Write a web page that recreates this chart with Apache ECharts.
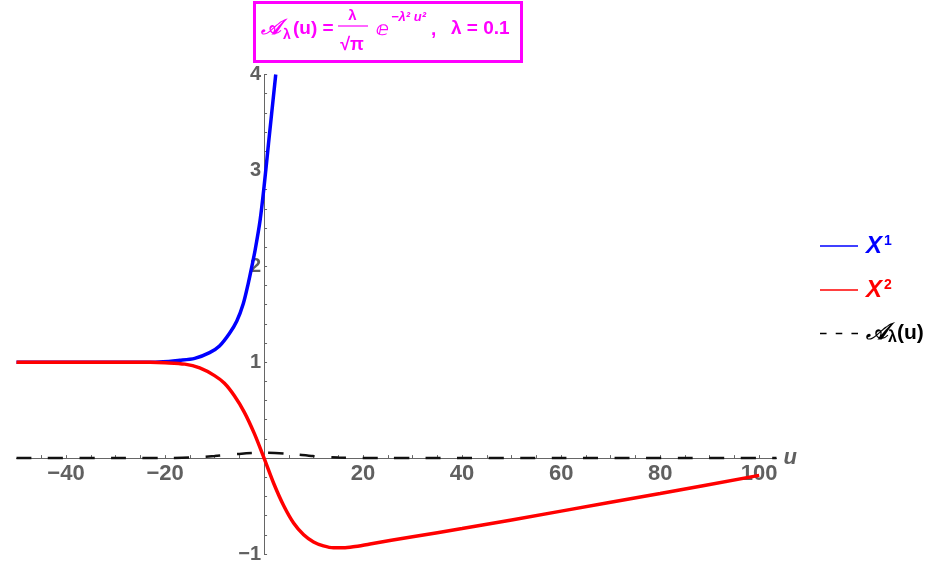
<!DOCTYPE html>
<html>
<head>
<meta charset="utf-8">
<script src="https://cdn.jsdelivr.net/npm/echarts@6/dist/echarts.min.js"></script>
<style>
    html, body { margin: 0; padding: 0; background: #fff; }
    #chart { width: 939px; height: 570px; }
</style>
</head>
<body>
<div id="chart"></div>
<script>
    // values
    const uBlue = [-50, -40, -30, -22, -17, -14, -11, -9, -7, -5.5, -4.2, -3.2, -2.5, -1.8, -0.8, 0, 0.9, 2.36];
    const yBlue = [1, 1, 1, 1.0, 1.02, 1.04, 1.10, 1.17, 1.30, 1.43, 1.61, 1.82, 1.99, 2.17, 2.48, 2.83, 3.28, 4.0];

    const uRed = [-50, -40, -30, -23, -20, -16, -13, -10, -8, -6, -4, -2, 0, 2, 4, 6, 8, 10, 12, 14, 16, 18, 21.4, 30, 40, 60, 80, 100];
    const yRed = [1, 1, 1, 1, 0.995, 0.98, 0.94, 0.86, 0.78, 0.65, 0.48, 0.26, 0, -0.27, -0.5, -0.68, -0.8, -0.875, -0.915, -0.935, -0.935, -0.925, -0.895, -0.82, -0.735, -0.553, -0.369, -0.18];

    const uGauss = [-50, -30, -25, -20, -15, -10, -5, 0, 5, 10, 15, 20, 25, 30, 60, 103.5];
    const yGauss = [0, 0, 0, 0.001, 0.006, 0.021, 0.044, 0.056, 0.044, 0.021, 0.006, 0.001, 0, 0, 0, 0];

    const xTickLabels = [-40, -20, 20, 40, 60, 80, 100];
    const yTickLabels = [-1, 1, 2, 3, 4];

    const pair = (us, ys) => us.map((u, i) => [u, ys[i]]);
    const minus = v => String(v).replace('-', '\u2212');
    const gray = '#606060';
    const font = '"Liberation Sans", Arial, sans-serif';
    const magenta = '#ff00ff';

    // grid box: u in [-50, 103.5], y in [-1, 4]
    const gridLeft = 16.5, gridRight = 162.5, gridTop = 74.5, gridBottom = 16;
    const plotW = 939 - gridLeft - gridRight, plotH = 570 - gridTop - gridBottom;
    // axes cross at (0, 0): move them there with offsets
    const xAxisOffset = -plotH * (0 - -1) / (4 - -1);
    const yAxisOffset = -plotW * (0 - -50) / (103.5 - -50);

    const chart = echarts.init(document.getElementById('chart'));

    const option = {
        animation: false,
        grid: { left: gridLeft, right: gridRight, top: gridTop, bottom: gridBottom, containLabel: false, outerBoundsMode: 'none' },
        xAxis: {
            type: 'value',
            min: -50,
            max: 103.5,
            interval: 5,
            position: 'bottom',
            offset: xAxisOffset,
            name: 'u',
            nameGap: 7,
            nameTextStyle: { color: gray, fontSize: 22, fontStyle: 'italic', fontWeight: 'bold', fontFamily: font, padding: [0, 0, 6, 0] },
            axisLine: { onZero: false, lineStyle: { color: '#666', width: 1 } },
            axisTick: { inside: true, length: 3, lineStyle: { color: '#666' } },
            splitLine: { show: false },
            axisLabel: {
                color: gray, fontSize: 22, fontWeight: 'bold', fontFamily: font, margin: 5,
                showMinLabel: false, showMaxLabel: false,
                formatter: v => xTickLabels.includes(Math.round(v)) && Math.abs(v - Math.round(v)) < 1e-6 ? minus(Math.round(v)) : ''
            }
        },
        yAxis: {
            type: 'value',
            min: -1,
            max: 4,
            interval: 0.2,
            position: 'left',
            offset: yAxisOffset,
            axisLine: { onZero: false, lineStyle: { color: '#666', width: 1 } },
            axisTick: { inside: true, length: 3, lineStyle: { color: '#666' } },
            splitLine: { show: false },
            axisLabel: {
                color: gray, fontSize: 20, fontWeight: 'bold', fontFamily: font, margin: 3,
                formatter: v => {
                    const r = Math.round(v);
                    return Math.abs(v - r) < 1e-6 && yTickLabels.includes(r) ? minus(r) : '';
                }
            }
        },
        legend: {
            orient: 'vertical',
            left: 815,
            top: 229,
            itemWidth: 38,
            itemHeight: 1.6,
            itemGap: 20,
            symbolKeepAspect: false,
            formatter: name => ({
                X1: '{x|X}{s|1}',
                X2: '{x|X}{s|2}',
                A: '{a|\uD835\uDC9C}{l|\u03BB}{n|(u)}'
            })[name],
            textStyle: {
                fontFamily: font,
                fontWeight: 'bold',
                fontSize: 21,
                padding: [0, 0, 0, 3],
                rich: {
                    x: { fontSize: 24, fontStyle: 'italic', fontWeight: 'bold', fontFamily: font },
                    s: { fontSize: 14, fontWeight: 'bold', fontFamily: font, verticalAlign: 'top', padding: [0, 0, 10, 2] },
                    a: { fontSize: 23, fontWeight: 'bold', fontStyle: 'italic', fontFamily: '"DejaVu Sans", sans-serif' },
                    l: { fontSize: 16, fontWeight: 'bold', fontFamily: font, verticalAlign: 'bottom', padding: [8, 0, 0, 0] },
                    n: { fontSize: 21, fontWeight: 'bold', fontFamily: font }
                }
            },
            data: [
                { name: 'X1', icon: 'rect', itemStyle: { color: '#0000ff' }, textStyle: { color: '#0000ff' } },
                { name: 'X2', icon: 'rect', itemStyle: { color: '#ff0000' }, textStyle: { color: '#ff0000' } },
                {
                    name: 'A',
                    icon: 'path://M0 0h5v1h-5zM12 0h5v1h-5zM24 0h5v1h-5z',
                    itemStyle: { color: '#000' },
                    textStyle: { color: '#000' }
                }
            ]
        },
        graphic: [
            { type: 'rect', shape: { x: 254.5, y: 2.5, width: 267, height: 59 }, style: { fill: '#fff', stroke: magenta, lineWidth: 3 }, z: 10 },
            { type: 'text', x: 261, y: 29, z: 11, style: { text: '\uD835\uDC9C', fill: magenta, font: 'italic bold 21px "DejaVu Sans", sans-serif', align: 'left', verticalAlign: 'middle' } },
            { type: 'text', x: 283, y: 35, z: 11, style: { text: '\u03BB', fill: magenta, font: 'bold 14px ' + font, align: 'left', verticalAlign: 'middle' } },
            { type: 'text', x: 293, y: 29, z: 11, style: { text: '(u) =', fill: magenta, font: 'bold 19px ' + font, align: 'left', verticalAlign: 'middle' } },
            { type: 'text', x: 352.5, y: 16, z: 11, style: { text: '\u03BB', fill: magenta, font: 'bold 15px ' + font, align: 'center', verticalAlign: 'middle' } },
            { type: 'line', z: 11, shape: { x1: 338, y1: 26, x2: 368, y2: 26 }, style: { stroke: magenta, lineWidth: 1.2 } },
            { type: 'text', x: 352, y: 45, z: 11, style: { text: '\u221A\u03C0', fill: magenta, font: 'bold 18px ' + font, align: 'center', verticalAlign: 'middle' } },
            { type: 'text', x: 376, y: 30, z: 11, style: { text: '\u2147', fill: magenta, font: 'bold 19px "DejaVu Sans", sans-serif', align: 'left', verticalAlign: 'middle' } },
            { type: 'text', x: 391, y: 17, z: 11, style: { text: '\u2212\u03BB\u00B2 u\u00B2', fill: magenta, font: 'italic bold 13px ' + font, align: 'left', verticalAlign: 'middle' } },
            { type: 'text', x: 431, y: 30, z: 11, style: { text: ',', fill: magenta, font: 'bold 19px ' + font, align: 'left', verticalAlign: 'middle' } },
            { type: 'text', x: 451, y: 29, z: 11, style: { text: '\u03BB = 0.1', fill: magenta, font: 'bold 19px ' + font, align: 'left', verticalAlign: 'middle' } }
        ],
        series: [
            {
                name: 'X1', type: 'line', data: pair(uBlue, yBlue), smooth: 0.3, symbol: 'none',
                lineStyle: { color: '#0000ff', width: 3.5 }, itemStyle: { color: '#0000ff' }
            },
            {
                name: 'X2', type: 'line', data: pair(uRed, yRed), smooth: 0.3, symbol: 'none',
                lineStyle: { color: '#ff0000', width: 3.5 }, itemStyle: { color: '#ff0000' }
            },
            {
                name: 'A', type: 'line', data: pair(uGauss, yGauss), smooth: 0.3, symbol: 'none',
                lineStyle: { color: '#111', width: 2.5, type: [15, 16.5] }, itemStyle: { color: '#111' }
            }
        ]
    };

    chart.setOption(option);
</script>
</body>
</html>
